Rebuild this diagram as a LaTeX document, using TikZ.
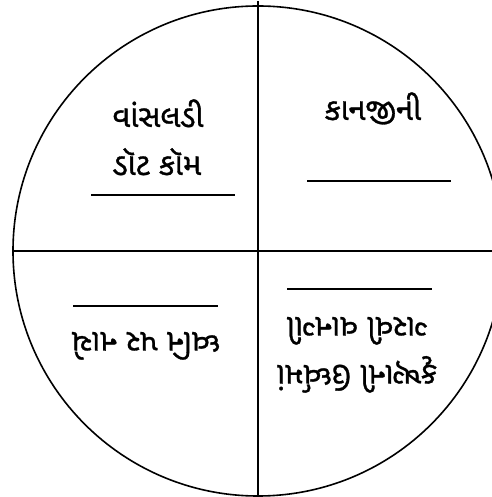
\documentclass[tikz,border=0pt]{standalone}
\usepackage{fontspec}
\usetikzlibrary{positioning}
\newfontfamily\guj[Script=Gujarati,FakeBold=1]{Noto Sans Gujarati UI}
\tikzset{
  disc/.style={draw, circle, line width=1.6bp, inner sep=0pt},
  cut/.style={line width=1.6bp},
  word/.style={font=\guj\fontsize{31}{36}\selectfont, inner sep=0pt,
    text height=20bp, text depth=6bp, anchor=base},
  flipped/.style={word, rotate=180},
  blank/.style={line width=1.6bp},
}
\begin{document}
\begin{tikzpicture}[x=1bp, y=1bp]
\useasboundingbox (0,0) rectangle (492,497);
\clip (0,0) rectangle (492,497);

% circle and the two cuts
\node[disc, minimum size=490bp] (plate) at (258,246) {};
\draw[cut] (258,496) -- (258,0);
\draw[cut] (plate.west) -- (492,246);

% top left
\node[word] (tlone) at (158,370) {વાંસલડી};
\node[word] (tltwo) at (157,322) {ડૉટ કૉમ};
\draw[blank] (91,302) -- (235,302);

% top right
\node[word] (trone) at (373,377) {કાનજીની};
\draw[blank] (307,316) -- (451,316);

% bottom left, upside down
\draw[blank] (73,191) -- (218,191);
\node[flipped] (blone) at (146,165) {ધ્વનિ પર નાચે};

% bottom right, upside down
\draw[blank] (287,208) -- (432,208);
\node[flipped] (brone) at (357,132) {કૃષ્ણની ઉર્ધ્વમાં};
\node[flipped] (brtwo) at (357,180) {ગરવી વાનગી};

\end{tikzpicture}
\end{document}
